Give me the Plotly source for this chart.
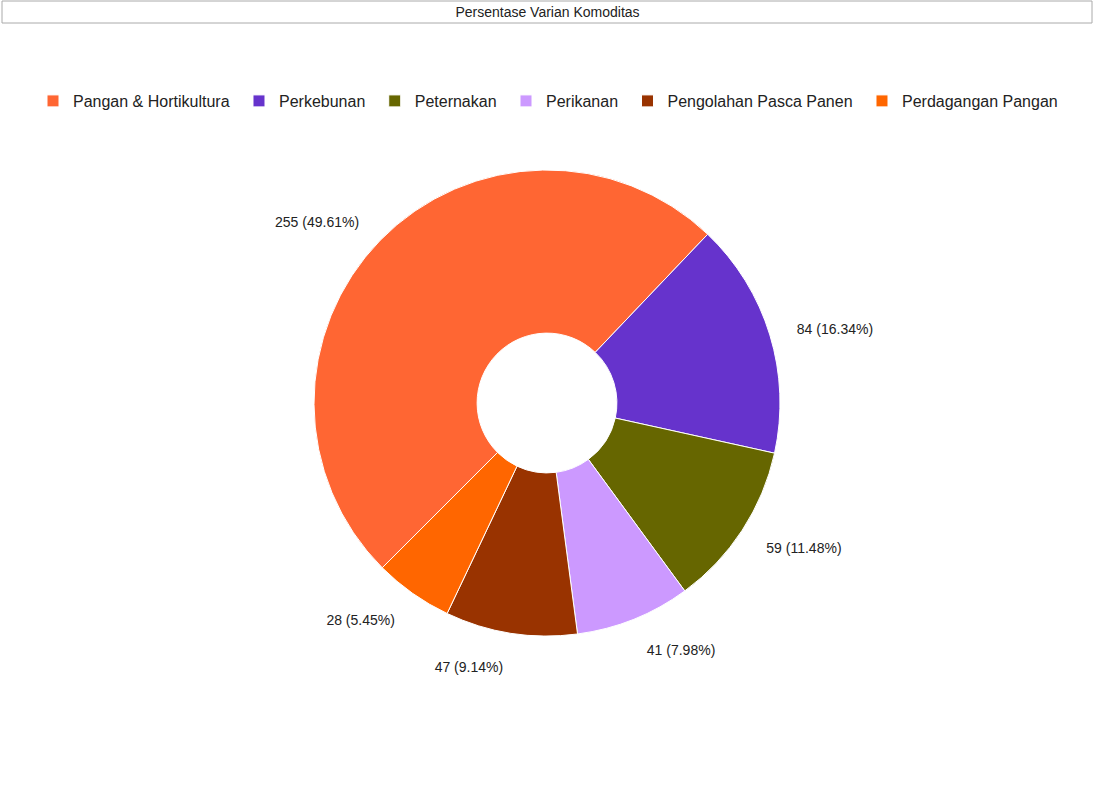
import plotly.graph_objects as go

labels = ["Pangan & Hortikultura", "Perkebunan", "Peternakan", "Perikanan",
          "Pengolahan Pasca Panen", "Perdagangan Pangan"]
values = [255, 84, 59, 41, 47, 28]
colors = ["#FF6633", "#6633CC", "#666600", "#CC99FF", "#993300", "#FF6600"]

W, H = 1095, 805
CX, CY, R, RL = 547, 403, 233, 257

# a trailing non-breaking space widens each legend entry slightly
legend_labels = [lab + "\u00a0" for lab in labels]

common = dict(labels=legend_labels, values=values, sort=False,
              direction="clockwise", rotation=225)

fig = go.Figure()
fig.add_trace(go.Pie(
    **common,
    hole=0.3,
    marker=dict(colors=colors, line=dict(color="#FFFFFF", width=1)),
    textinfo="none",
    domain=dict(x=[(CX - R) / W, (CX + R) / W],
                y=[(H - CY - R) / H, (H - CY + R) / H]),
))
# invisible ring used only to place the outside labels a bit further out
fig.add_trace(go.Pie(
    **common,
    hole=0.95,
    marker=dict(colors=["rgba(0,0,0,0)"] * len(values),
                line=dict(color="rgba(0,0,0,0)", width=0)),
    textposition="outside",
    texttemplate="%{value} (%{percent:.2%})",
    textfont=dict(family="Liberation Sans, Arial", size=14, color="#222222"),
    showlegend=False,
    hoverinfo="skip",
    domain=dict(x=[(CX - RL) / W, (CX + RL) / W],
                y=[(H - CY - RL - 2) / H, (H - CY + RL - 2) / H]),
))

fig.update_layout(
    width=W, height=H,
    margin=dict(l=0, r=0, t=0, b=0),
    paper_bgcolor="white",
    font=dict(family="Liberation Sans, Arial", color="#222222"),
    title=dict(text="Persentase Varian Komoditas", x=0.5, xanchor="center",
               y=1 - 12 / H, yanchor="middle",
               font=dict(size=14, color="#222222")),
    legend=dict(orientation="h", x=33 / W, xanchor="left", y=1 - 101 / H,
                yanchor="middle", font=dict(size=16, color="#222222"),
                itemwidth=30, traceorder="normal"),
    shapes=[dict(type="rect", xref="paper", yref="paper",
                 x0=2 / W, x1=1 - 3 / W, y0=1 - 23 / H, y1=1 - 1 / H,
                 line=dict(color="#AAAAAA", width=1), fillcolor="rgba(0,0,0,0)",
                 layer="below")],
)

fig.write_html("out.html",
               config={"displayModeBar": False},
               post_script="document.body.style.margin='0';")
